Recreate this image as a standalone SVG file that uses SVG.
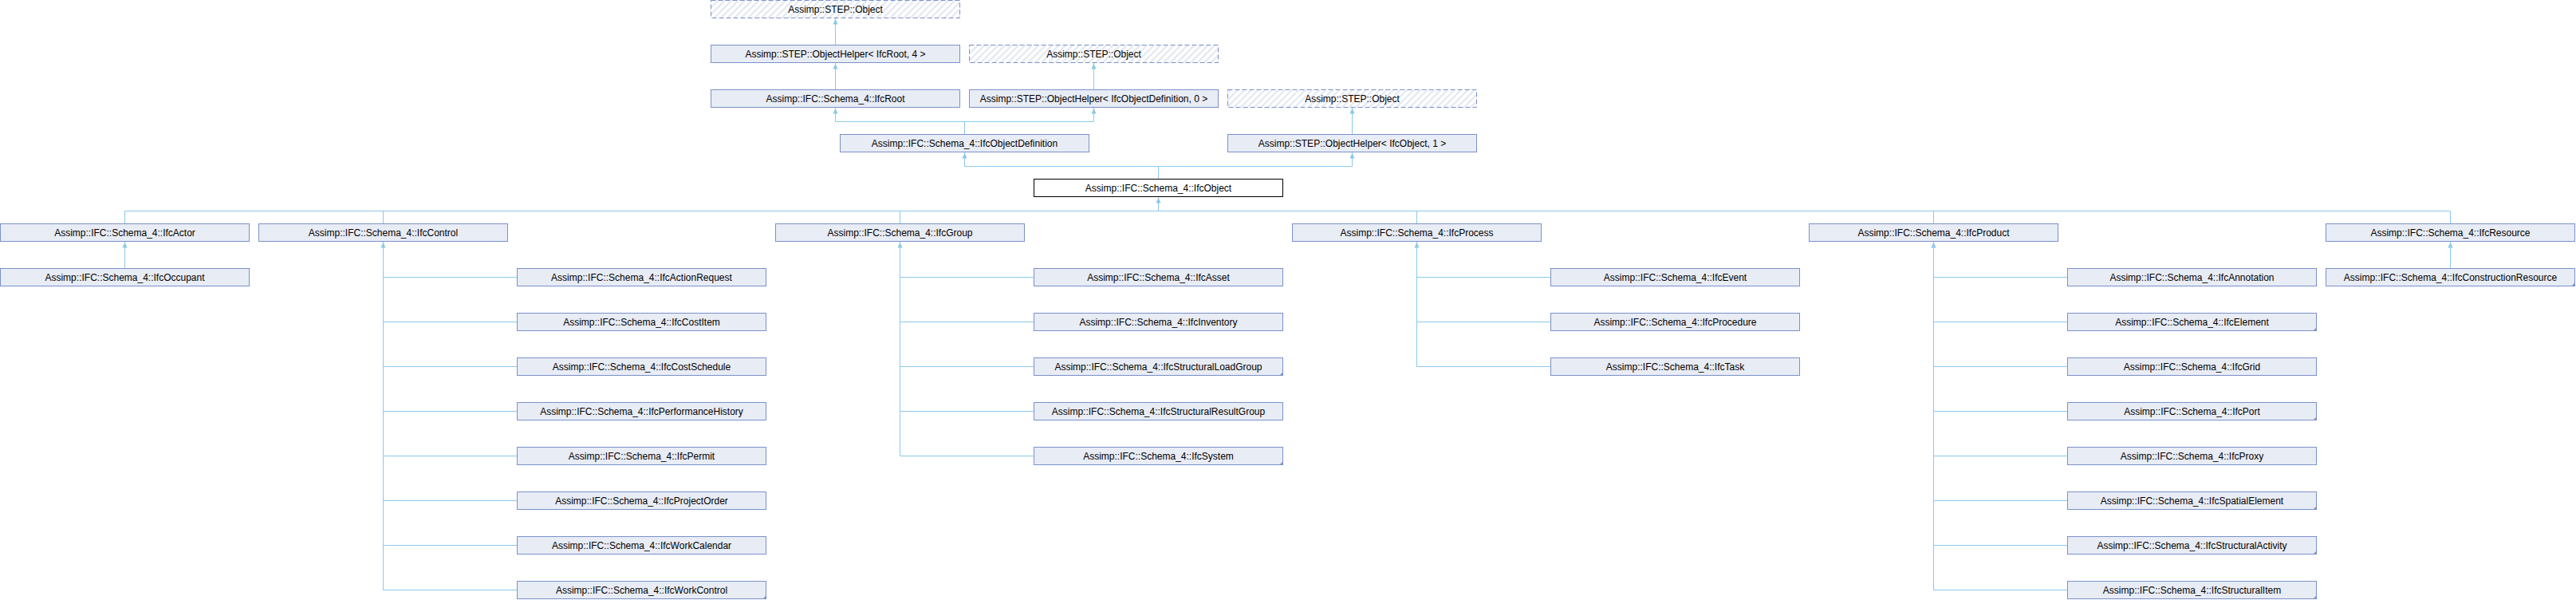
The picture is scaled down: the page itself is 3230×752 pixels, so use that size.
<svg xmlns="http://www.w3.org/2000/svg" xmlns:xlink="http://www.w3.org/1999/xlink" width="3230" height="752" viewBox="0 0 3230 752">
<style>
.n rect{fill:#E8ECF5;stroke:#7B91C9;stroke-width:1}
.d rect{fill:url(#hatch);stroke:#7B91C9;stroke-width:1;stroke-dasharray:6,3}
.f rect{fill:#FFFFFF;stroke:#000000;stroke-width:1}
.c{fill:#7B91C9}
text{font-family:"Liberation Sans",Arial,sans-serif;font-size:12px;fill:#000;text-anchor:middle}
#edges path{fill:none;stroke:#8DC8EA;stroke-width:1}
#edges use{fill:#8DC8EA}
</style>
<defs>
<pattern id="hatch" patternUnits="userSpaceOnUse" width="6" height="6" patternTransform="rotate(45)">
<rect x="0" y="0" width="6" height="6" fill="#FFFFFF"/>
<rect x="0" y="0" width="2.2" height="6" fill="#E3E8F2"/>
</pattern>
<path id="ah" d="M0,0 L3,7 L-3,7 Z"/>
<path id="cm" d="M0,0 L0,-5 L-5,0 Z"/>
</defs>
<rect width="3230" height="752" fill="#FFFFFF"/>
<g id="edges">
<path d="M1047.5,23 V56"/>
<path d="M1047.5,79 V112"/>
<path d="M1371.5,79 V112"/>
<path d="M1695.5,135 V168"/>
<path d="M1047.5,135 V152.5 H1371.5 V135 M1209.5,152.5 V168"/>
<path d="M1209.5,191 V208.5 H1695.5 V191 M1452.5,208.5 V224"/>
<path d="M1452.5,247 V264.5 M156.5,264.5 H3072.5 M156.5,264.5 V280 M480.5,264.5 V280 M1128.5,264.5 V280 M1776.5,264.5 V280 M2424.5,264.5 V280 M3072.5,264.5 V280"/>
<path d="M156.5,303 V336"/>
<path d="M3072.5,303 V336"/>
<path d="M480.5,303 V739.5 M480.5,347.5 H648 M480.5,403.5 H648 M480.5,459.5 H648 M480.5,515.5 H648 M480.5,571.5 H648 M480.5,627.5 H648 M480.5,683.5 H648 M480.5,739.5 H648"/>
<path d="M1128.5,303 V571.5 M1128.5,347.5 H1296 M1128.5,403.5 H1296 M1128.5,459.5 H1296 M1128.5,515.5 H1296 M1128.5,571.5 H1296"/>
<path d="M1776.5,303 V459.5 M1776.5,347.5 H1944 M1776.5,403.5 H1944 M1776.5,459.5 H1944"/>
<path d="M2424.5,303 V739.5 M2424.5,347.5 H2592 M2424.5,403.5 H2592 M2424.5,459.5 H2592 M2424.5,515.5 H2592 M2424.5,571.5 H2592 M2424.5,627.5 H2592 M2424.5,683.5 H2592 M2424.5,739.5 H2592"/>
<use href="#ah" x="1047.5" y="23.5"/>
<use href="#ah" x="1047.5" y="79.5"/>
<use href="#ah" x="1371.5" y="79.5"/>
<use href="#ah" x="1047.5" y="135.5"/>
<use href="#ah" x="1371.5" y="135.5"/>
<use href="#ah" x="1695.5" y="135.5"/>
<use href="#ah" x="1209.5" y="191.5"/>
<use href="#ah" x="1695.5" y="191.5"/>
<use href="#ah" x="1452.5" y="247.5"/>
<use href="#ah" x="156.5" y="303.5"/>
<use href="#ah" x="480.5" y="303.5"/>
<use href="#ah" x="1128.5" y="303.5"/>
<use href="#ah" x="1776.5" y="303.5"/>
<use href="#ah" x="2424.5" y="303.5"/>
<use href="#ah" x="3072.5" y="303.5"/>
</g>
<g id="n_obj0" class="d"><rect x="891.5" y="0.5" width="312" height="22"/><text x="1047.5" y="16">Assimp::STEP::Object</text></g>
<g id="n_helper_root" class="n"><rect x="891.5" y="56.5" width="312" height="22"/><text x="1047.5" y="72">Assimp::STEP::ObjectHelper&lt; IfcRoot, 4 &gt;</text></g>
<g id="n_obj1" class="d"><rect x="1215.5" y="56.5" width="312" height="22"/><text x="1371.5" y="72">Assimp::STEP::Object</text></g>
<g id="n_root" class="n"><rect x="891.5" y="112.5" width="312" height="22"/><text x="1047.5" y="128">Assimp::IFC::Schema_4::IfcRoot</text></g>
<g id="n_helper_objdef" class="n"><rect x="1215.5" y="112.5" width="312" height="22"/><text x="1371.5" y="128">Assimp::STEP::ObjectHelper&lt; IfcObjectDefinition, 0 &gt;</text></g>
<g id="n_obj2" class="d"><rect x="1539.5" y="112.5" width="312" height="22"/><text x="1695.5" y="128">Assimp::STEP::Object</text></g>
<g id="n_objdef" class="n"><rect x="1053.5" y="168.5" width="312" height="22"/><text x="1209.5" y="184">Assimp::IFC::Schema_4::IfcObjectDefinition</text></g>
<g id="n_helper_obj" class="n"><rect x="1539.5" y="168.5" width="312" height="22"/><text x="1695.5" y="184">Assimp::STEP::ObjectHelper&lt; IfcObject, 1 &gt;</text></g>
<g id="n_object" class="f"><rect x="1296.5" y="224.5" width="312" height="22"/><text x="1452.5" y="240">Assimp::IFC::Schema_4::IfcObject</text></g>
<g id="n_actor" class="n"><rect x="0.5" y="280.5" width="312" height="22"/><text x="156.5" y="296">Assimp::IFC::Schema_4::IfcActor</text></g>
<g id="n_control" class="n"><rect x="324.5" y="280.5" width="312" height="22"/><text x="480.5" y="296">Assimp::IFC::Schema_4::IfcControl</text></g>
<g id="n_group" class="n"><rect x="972.5" y="280.5" width="312" height="22"/><text x="1128.5" y="296">Assimp::IFC::Schema_4::IfcGroup</text></g>
<g id="n_process" class="n"><rect x="1620.5" y="280.5" width="312" height="22"/><text x="1776.5" y="296">Assimp::IFC::Schema_4::IfcProcess</text></g>
<g id="n_product" class="n"><rect x="2268.5" y="280.5" width="312" height="22"/><text x="2424.5" y="296">Assimp::IFC::Schema_4::IfcProduct</text></g>
<g id="n_resource" class="n"><rect x="2916.5" y="280.5" width="312" height="22"/><text x="3072.5" y="296">Assimp::IFC::Schema_4::IfcResource</text></g>
<g id="n_occupant" class="n"><rect x="0.5" y="336.5" width="312" height="22"/><text x="156.5" y="352">Assimp::IFC::Schema_4::IfcOccupant</text></g>
<g id="n_constrres" class="n"><rect x="2916.5" y="336.5" width="312" height="22"/><text x="3072.5" y="352">Assimp::IFC::Schema_4::IfcConstructionResource</text><use href="#cm" class="c" x="3229" y="359"/></g>
<g id="n_actionrequest" class="n"><rect x="648.5" y="336.5" width="312" height="22"/><text x="804.5" y="352">Assimp::IFC::Schema_4::IfcActionRequest</text></g>
<g id="n_costitem" class="n"><rect x="648.5" y="392.5" width="312" height="22"/><text x="804.5" y="408">Assimp::IFC::Schema_4::IfcCostItem</text></g>
<g id="n_costschedule" class="n"><rect x="648.5" y="448.5" width="312" height="22"/><text x="804.5" y="464">Assimp::IFC::Schema_4::IfcCostSchedule</text></g>
<g id="n_perfhistory" class="n"><rect x="648.5" y="504.5" width="312" height="22"/><text x="804.5" y="520">Assimp::IFC::Schema_4::IfcPerformanceHistory</text></g>
<g id="n_permit" class="n"><rect x="648.5" y="560.5" width="312" height="22"/><text x="804.5" y="576">Assimp::IFC::Schema_4::IfcPermit</text></g>
<g id="n_projectorder" class="n"><rect x="648.5" y="616.5" width="312" height="22"/><text x="804.5" y="632">Assimp::IFC::Schema_4::IfcProjectOrder</text></g>
<g id="n_workcalendar" class="n"><rect x="648.5" y="672.5" width="312" height="22"/><text x="804.5" y="688">Assimp::IFC::Schema_4::IfcWorkCalendar</text></g>
<g id="n_workcontrol" class="n"><rect x="648.5" y="728.5" width="312" height="22"/><text x="804.5" y="744">Assimp::IFC::Schema_4::IfcWorkControl</text><use href="#cm" class="c" x="961" y="751"/></g>
<g id="n_asset" class="n"><rect x="1296.5" y="336.5" width="312" height="22"/><text x="1452.5" y="352">Assimp::IFC::Schema_4::IfcAsset</text></g>
<g id="n_inventory" class="n"><rect x="1296.5" y="392.5" width="312" height="22"/><text x="1452.5" y="408">Assimp::IFC::Schema_4::IfcInventory</text></g>
<g id="n_structloadgroup" class="n"><rect x="1296.5" y="448.5" width="312" height="22"/><text x="1452.5" y="464">Assimp::IFC::Schema_4::IfcStructuralLoadGroup</text><use href="#cm" class="c" x="1609" y="471"/></g>
<g id="n_structresultgroup" class="n"><rect x="1296.5" y="504.5" width="312" height="22"/><text x="1452.5" y="520">Assimp::IFC::Schema_4::IfcStructuralResultGroup</text></g>
<g id="n_system" class="n"><rect x="1296.5" y="560.5" width="312" height="22"/><text x="1452.5" y="576">Assimp::IFC::Schema_4::IfcSystem</text><use href="#cm" class="c" x="1609" y="583"/></g>
<g id="n_event" class="n"><rect x="1944.5" y="336.5" width="312" height="22"/><text x="2100.5" y="352">Assimp::IFC::Schema_4::IfcEvent</text></g>
<g id="n_procedure" class="n"><rect x="1944.5" y="392.5" width="312" height="22"/><text x="2100.5" y="408">Assimp::IFC::Schema_4::IfcProcedure</text></g>
<g id="n_task" class="n"><rect x="1944.5" y="448.5" width="312" height="22"/><text x="2100.5" y="464">Assimp::IFC::Schema_4::IfcTask</text></g>
<g id="n_annotation" class="n"><rect x="2592.5" y="336.5" width="312" height="22"/><text x="2748.5" y="352">Assimp::IFC::Schema_4::IfcAnnotation</text></g>
<g id="n_element" class="n"><rect x="2592.5" y="392.5" width="312" height="22"/><text x="2748.5" y="408">Assimp::IFC::Schema_4::IfcElement</text><use href="#cm" class="c" x="2905" y="415"/></g>
<g id="n_grid" class="n"><rect x="2592.5" y="448.5" width="312" height="22"/><text x="2748.5" y="464">Assimp::IFC::Schema_4::IfcGrid</text></g>
<g id="n_port" class="n"><rect x="2592.5" y="504.5" width="312" height="22"/><text x="2748.5" y="520">Assimp::IFC::Schema_4::IfcPort</text><use href="#cm" class="c" x="2905" y="527"/></g>
<g id="n_proxy" class="n"><rect x="2592.5" y="560.5" width="312" height="22"/><text x="2748.5" y="576">Assimp::IFC::Schema_4::IfcProxy</text></g>
<g id="n_spatialelement" class="n"><rect x="2592.5" y="616.5" width="312" height="22"/><text x="2748.5" y="632">Assimp::IFC::Schema_4::IfcSpatialElement</text><use href="#cm" class="c" x="2905" y="639"/></g>
<g id="n_structactivity" class="n"><rect x="2592.5" y="672.5" width="312" height="22"/><text x="2748.5" y="688">Assimp::IFC::Schema_4::IfcStructuralActivity</text><use href="#cm" class="c" x="2905" y="695"/></g>
<g id="n_structitem" class="n"><rect x="2592.5" y="728.5" width="312" height="22"/><text x="2748.5" y="744">Assimp::IFC::Schema_4::IfcStructuralItem</text><use href="#cm" class="c" x="2905" y="751"/></g>
</svg>
